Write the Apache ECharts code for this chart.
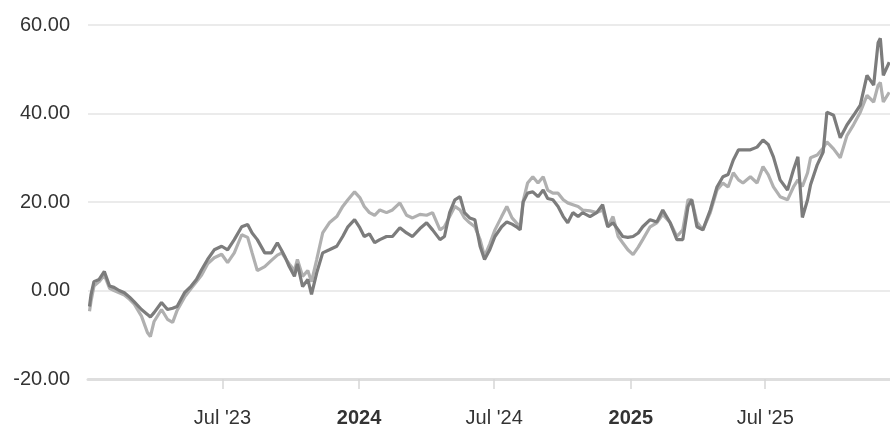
<!DOCTYPE html>
<html>
<head>
<meta charset="utf-8">
<script src="https://cdn.jsdelivr.net/npm/echarts@6/dist/echarts.min.js"></script>
<style>
html,body{margin:0;padding:0;background:#fff;}
#chart{width:890px;height:428px;}
</style>
</head>
<body>
<div id="chart"></div>
<script>
const dates = [
'2023-01-03','2023-01-05','2023-01-09','2023-01-16','2023-01-23','2023-01-30','2023-02-05','2023-02-12','2023-02-19','2023-02-26',
'2023-03-04','2023-03-14','2023-03-22','2023-03-26','2023-03-31','2023-04-10','2023-04-18','2023-04-25','2023-05-01','2023-05-11',
'2023-05-20','2023-05-27','2023-06-03','2023-06-11','2023-06-20','2023-06-30','2023-07-08','2023-07-17','2023-07-27','2023-08-04',
'2023-08-10','2023-08-17','2023-08-27','2023-09-05','2023-09-13','2023-09-19','2023-09-23','2023-09-29','2023-10-06','2023-10-10',
'2023-10-17','2023-10-24','2023-10-29','2023-11-05','2023-11-13','2023-11-22','2023-12-02','2023-12-10','2023-12-17','2023-12-26',
'2024-01-02','2024-01-08','2024-01-15','2024-01-22','2024-01-29','2024-02-07','2024-02-15','2024-02-25','2024-03-05','2024-03-13',
'2024-03-23','2024-04-01','2024-04-09','2024-04-19','2024-04-25','2024-05-02','2024-05-09','2024-05-16','2024-05-22','2024-05-29',
'2024-06-05','2024-06-12','2024-06-18','2024-06-25','2024-07-02','2024-07-11','2024-07-18','2024-07-25','2024-07-31','2024-08-05',
'2024-08-09','2024-08-15','2024-08-22','2024-08-29','2024-09-05','2024-09-11','2024-09-18','2024-09-25','2024-10-02','2024-10-08',
'2024-10-15','2024-10-22','2024-10-28','2024-11-07','2024-11-16','2024-11-24','2024-12-01','2024-12-08','2024-12-15','2024-12-21',
'2024-12-28','2025-01-04','2025-01-11','2025-01-17','2025-01-27','2025-02-05','2025-02-13','2025-02-23','2025-03-04','2025-03-12',
'2025-03-19','2025-03-24','2025-03-31','2025-04-08','2025-04-18','2025-04-27','2025-05-05','2025-05-12','2025-05-19','2025-05-26',
'2025-06-01','2025-06-11','2025-06-20','2025-06-28','2025-07-05','2025-07-12','2025-07-21','2025-07-31','2025-08-08','2025-08-14',
'2025-08-20','2025-08-27','2025-08-31','2025-09-09','2025-09-17','2025-09-22','2025-10-01','2025-10-10','2025-10-19','2025-10-28',
'2025-11-06','2025-11-15','2025-11-24','2025-11-30','2025-12-03','2025-12-07','2025-12-15'
];
const darkSeries = [
-3.6,-1,2,2.5,4.3,1,0.7,0,-0.5,-1.5,
-2.5,-4.3,-5.4,-6,-5,-2.7,-4.3,-4,-3.6,-0.5,
1,2.5,4.7,7,9.2,10,9.2,11.5,14.4,14.9,
13,11.5,8.5,8.5,10.8,9,7.7,5.4,3.2,6,
0.9,2.5,-0.9,4,8.5,9.2,10,12.2,14.4,16,
14.2,12.2,12.8,10.8,11.5,12.2,12.2,14.2,13,12.2,
14,15.3,13.7,11.5,12.2,17.6,20.5,21.2,17.6,16.4,
16,10,7,9.2,12.2,14.4,15.5,15,14.4,13.7,
20,22,22.3,21.2,22.7,20.8,20.5,19,16.7,15.3,
17.6,16.7,17.6,16.7,17.6,19.4,14.4,15.3,13.7,12.2,
12,12.2,13,14.4,16,15.5,18.2,15.3,11.5,11.5,
19,20.5,14.4,13.7,18.2,23.4,25.7,26.2,29.5,31.8,
31.8,31.8,32.4,34,33,30.2,25,22.7,27.3,30.2,
16.5,20.5,23.9,28.4,31.3,40.3,39.6,34.5,37.4,39.6,
41.9,48.6,46.4,56,57,48.6,51.6
];
const lightSeries = [
-4.7,-2.5,1,2,3.5,0.5,0,-0.5,-1,-2,
-3,-5.8,-9.5,-10.4,-7,-4.3,-6.5,-7.2,-4.5,-1.5,
0.5,2,3.5,6,7.4,8.2,6.3,8.5,12.6,12,
8.5,4.5,5.4,6.8,8,8.5,7.5,6,4.5,7,
3.2,4.5,2,7,13,15.3,16.7,19,20.5,22.3,
21,19,17.6,17,18.2,17.6,18.2,19.8,17,16.4,
17.2,17,17.6,13.7,14.4,16.7,19,18.2,16.4,15.3,
14.4,11.5,7.7,10.5,13.7,16.7,19,16.4,15.3,14.4,
20.2,24.3,25.7,24.3,25.7,22.7,22,22,20.5,19.8,
19.4,19,18.2,18,17.6,18.2,14.4,16.7,12.2,10.8,
9.2,8.1,9.8,11.5,14.4,15.3,17.2,15.3,12.2,13.7,
20.5,20.5,15.5,13.7,17.6,22.7,24.3,23.4,26.6,25,
24.3,25.7,24.3,28,26.2,23.4,21.2,20.5,23.4,25,
23.5,26.6,30,30.6,32.2,33.6,32,30,35,37.5,
40.3,44.1,42.6,46.4,47,42.6,44.8
];
const yTicks = [-20, 0, 20, 40, 60];
const xTickDates = ['2023-07-01','2024-01-01','2024-07-01','2025-01-01','2025-07-01'];
const xRange = ['2023-01-01','2025-12-16'];

const toTime = d => Date.UTC(+d.slice(0,4), +d.slice(5,7)-1, +d.slice(8,10));
const chart = echarts.init(document.getElementById('chart'), null, {renderer:'canvas'});
const toPairs = arr => dates.map((d,i)=>[toTime(d), arr[i]]);
const xTickTimes = xTickDates.map(toTime);
const FONT = '"Liberation Sans", Arial, sans-serif';
chart.setOption({
  animation:false,
  textStyle:{fontFamily:FONT},
  grid:{left:88, right:0, top:25, bottom:48, containLabel:false},
  xAxis:{
    type:'value',
    min:toTime(xRange[0]),
    max:toTime(xRange[1]),
    axisLine:{show:true, onZero:false, lineStyle:{color:'#dedede', width:3}},
    axisTick:{show:true, customValues:xTickTimes, length:10, lineStyle:{color:'#d6d6d6', width:1.5}},
    splitLine:{show:false},
    axisLabel:{
      customValues:xTickTimes,
      margin:29,
      fontSize:20,
      color:'#333',
      fontFamily:FONT,
      formatter:function(v){
        const d = new Date(v);
        if (d.getUTCMonth()===0) return '{b|' + d.getUTCFullYear() + '}';
        return 'Jul \'' + String(d.getUTCFullYear()).slice(2);
      },
      rich:{b:{fontWeight:'bold', fontSize:20, color:'#333', fontFamily:FONT}}
    }
  },
  yAxis:{
    type:'value',
    min:yTicks[0], max:yTicks[yTicks.length-1], interval:20,
    axisLine:{show:false}, axisTick:{show:false},
    splitLine:{lineStyle:{color:'#e4e4e4', width:1.5}},
    axisLabel:{fontSize:20, color:'#333', margin:18, fontFamily:FONT,
      padding:[0,0,7,0],
      formatter:v=>v.toFixed(2)}
  },
  series:[
    {type:'line', data:toPairs(lightSeries), showSymbol:false, lineStyle:{color:'#b0b0b0', width:3.2}, z:2},
    {type:'line', data:toPairs(darkSeries), showSymbol:false, lineStyle:{color:'#7c7c7c', width:3.2}, z:3}
  ]
});
</script>
</body>
</html>
